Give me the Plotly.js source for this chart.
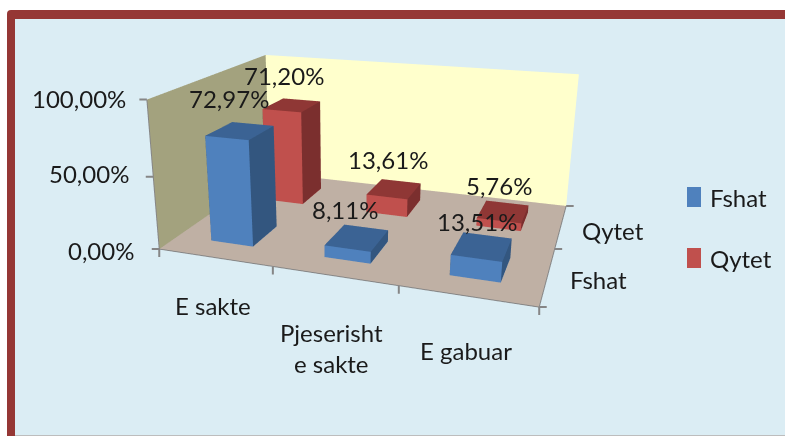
<!DOCTYPE html>
<html><head><meta charset="utf-8">
<script src="https://cdn.plot.ly/plotly-3.0.1.min.js"></script>
<style>html,body{margin:0;padding:0;background:#fff;overflow:hidden;width:785px;height:436px}#w{position:relative;width:785px;height:436px;overflow:hidden}#c{position:absolute;left:0;top:-141px;width:785px;height:662px}</style></head>
<body><div id="w"><div id="c"></div></div>
<script>
var categories=["E sakte","Pjeserisht<br>e sakte","E gabuar"];
var seriesNames=["Fshat","Qytet"];
var fshat=[72.97,8.11,13.51];
var qytet=[71.20,13.61,5.76];
var fshatLabels=["72,97%","8,11%","13,51%"];
var qytetLabels=["71,20%","13,61%","5,76%"];
var zTicks=[0,50,100];
var zTickLabels=["0,00%","50,00%","100,00%"];
var fshatShift=[[-11,32],[-12,28],[-5,25]];
var qytetShift=[[-8,30],[-6,29],[-4,26]];
var catShift=[[-2,-48],[-3,-72],[-1,-54]];
var seriesShift=[[51,-4],[52,-4]];
var zShift=[[-58,-1],[-64,3],[-68,1]];
var LW=785,LH=662,TOP=141;
function px(x){return x/LW}
function py(y){return 1-(y+TOP)/LH}
var traces=[];
function bar(cx,cy,h,front,side,top){var w=0.19,d=0.22;
 traces.push({type:"mesh3d",x:[cx-w,cx+w,cx+w,cx-w,cx-w,cx+w,cx+w,cx-w],y:[cy-d,cy-d,cy+d,cy+d,cy-d,cy-d,cy+d,cy+d],z:[0,0,0,0,h,h,h,h],
 i:[0,0,4,4,0,0,1,1,2,2,3,3],j:[1,2,5,6,1,5,2,6,3,7,0,4],k:[2,3,6,7,5,4,6,5,7,6,4,7],
 facecolor:[front,front,top,top,front,front,side,side,side,side,side,side],hoverinfo:"skip",showscale:false,flatshading:true,lighting:{ambient:1,diffuse:0,specular:0,fresnel:0,roughness:1}});}
fshat.forEach(function(v,i){bar(i,0,v,"#4f81bd","#33567f","#3b6394")});
qytet.forEach(function(v,i){bar(i,1,v,"#c0504d","#7b2f2e","#8f3735")});
var ann=[];
function label(x,y,z,t,s){ann.push({x:x,y:y,z:z,text:t,showarrow:false,xshift:s[0],yshift:s[1]})}
function tick(x,y,z,ax,ay){ann.push({x:x,y:y,z:z,text:" ",font:{size:1},showarrow:true,arrowhead:0,arrowwidth:2,arrowcolor:"#868686",ax:ax,ay:ay,standoff:0,startstandoff:0})}
fshat.forEach(function(v,i){label(i,0,v,fshatLabels[i],fshatShift[i])});
qytet.forEach(function(v,i){label(i,1,v,qytetLabels[i],qytetShift[i])});
[-0.5,0.5,1.5,2.5].forEach(function(x){tick(x,-0.5,0,0,10)});
[-0.5,0.5,1.5].forEach(function(y){tick(2.5,y,0,9,0)});
zTicks.forEach(function(z){tick(-0.5,-0.5,z,-9,0)});
categories.forEach(function(c,i){label(i,-0.5,0,c,catShift[i])});
seriesNames.forEach(function(c,i){label(2.5,i,0,c,seriesShift[i])});
zTicks.forEach(function(z,i){label(-0.5,-0.5,z,zTickLabels[i],zShift[i])});
var shapes=[
 {type:"path",xref:"paper",yref:"paper",layer:"below",line:{width:0},fillcolor:"#953735",path:"M "+px(7)+","+py(436)+" L "+px(7)+","+py(14)+" Q "+px(7)+","+py(10)+" "+px(11)+","+py(10)+" L "+px(785)+","+py(10)+" L "+px(785)+","+py(436)+" Z"},
 {type:"rect",xref:"paper",yref:"paper",layer:"below",line:{width:0},fillcolor:"#dbedf4",x0:px(15),x1:px(785),y0:py(435),y1:py(19)},
 {type:"rect",xref:"paper",yref:"paper",layer:"below",line:{width:0},fillcolor:"#bdbdbd",x0:px(15),x1:px(785),y0:py(436),y1:py(435)},
 {type:"rect",xref:"paper",yref:"paper",layer:"below",line:{width:0},fillcolor:"#4f81bd",x0:px(687),x1:px(701),y0:py(207),y1:py(187)},
 {type:"rect",xref:"paper",yref:"paper",layer:"below",line:{width:0},fillcolor:"#c0504d",x0:px(687),x1:px(701),y0:py(268),y1:py(248)}
];
var paperAnn=[
 {xref:"paper",yref:"paper",x:px(708),y:py(197),xanchor:"left",showarrow:false,text:seriesNames[0]},
 {xref:"paper",yref:"paper",x:px(708),y:py(258),xanchor:"left",showarrow:false,text:seriesNames[1]}
];
function ax3(tv,bg){return {range:tv,backgroundcolor:bg,showticklabels:false,ticks:"",title:{text:""},showbackground:true,showgrid:false,zeroline:false,showline:true,linecolor:"#868686",linewidth:2,showspikes:false}}
var layout={width:LW,height:LH,margin:{l:0,r:0,t:0,b:0},paper_bgcolor:"#ffffff",showlegend:false,
 font:{family:"Lato, sans-serif",size:24,color:"#1a1a1a"},shapes:shapes,annotations:paperAnn,
 scene:{domain:{x:[0,0.879],y:[0,1]},aspectmode:"manual",aspectratio:{x:2,y:1.415,z:0.817},
  camera:{eye:{x:1.256,y:-4.095,z:1.298},center:{x:-0.052,y:-0.399,z:-0.064},up:{x:0,y:-0.020,z:1},projection:{type:"perspective"}},
  xaxis:ax3([-0.5,2.5],"#a3a27e"),yaxis:ax3([-0.5,1.5],"#ffffcc"),zaxis:ax3([0,100],"#bfb0a4"),annotations:ann}};
Plotly.newPlot("c",traces,layout,{displayModeBar:false});
</script></body></html>
